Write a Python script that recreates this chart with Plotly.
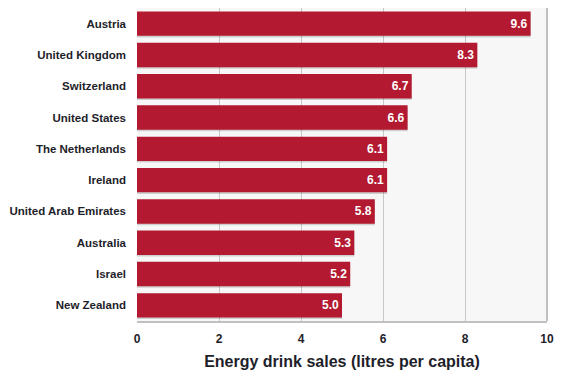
import plotly.graph_objects as go

countries = ["Austria", "United Kingdom", "Switzerland", "United States", "The Netherlands",
             "Ireland", "United Arab Emirates", "Australia", "Israel", "New Zealand"]
sales = [9.6, 8.3, 6.7, 6.6, 6.1, 6.1, 5.8, 5.3, 5.2, 5.0]
x_ticks = [0, 2, 4, 6, 8, 10]

FONT = "Liberation Sans, Arial, sans-serif"
BAR = "#b31a31"
TXT = "#1e1e2a"

fig = go.Figure()
# shadow layer
fig.add_trace(go.Bar(
    y=countries, x=sales, orientation="h",
    marker=dict(color="rgba(0,0,0,0.16)", line=dict(width=0)),
    width=0.78, offset=-0.34, hoverinfo="skip", showlegend=False,
))
fig.add_trace(go.Bar(
    y=countries, x=sales, orientation="h",
    marker=dict(color=BAR, line=dict(width=0)),
    width=0.78, offset=-0.39,
    text=[f"{v:.1f}" for v in sales], textposition="inside",
    insidetextanchor="end",
    textfont=dict(family=FONT, size=12, color="white", weight="bold"),
    showlegend=False,
))

fig.update_layout(
    width=573, height=375,
    margin=dict(l=129, r=34, t=0, b=62),
    paper_bgcolor="white", plot_bgcolor="#f7f7f7",
    barmode="overlay",
    font=dict(family=FONT, color=TXT),
    xaxis=dict(
        range=[0, 10], tickvals=x_ticks, ticktext=[str(t) for t in x_ticks],
        showgrid=True, gridcolor="#c8c8c8", gridwidth=1, zeroline=False,
        showline=True, linecolor="#c0c0c0", linewidth=2, mirror=False,
        ticks="", ticklabelstandoff=6, automargin=False,
        tickfont=dict(family=FONT, size=12, color=TXT, weight="bold"),
        title=dict(text="Energy drink sales (litres per capita)",
                   font=dict(family=FONT, size=16, color=TXT, weight="bold"),
                   standoff=10),
    ),
    yaxis=dict(
        autorange="reversed", showgrid=False, zeroline=False, automargin=False,
        showline=False, ticks="", ticklabelstandoff=10,
        tickfont=dict(family=FONT, size=11.5, color=TXT, weight="bold"),
    ),
    shapes=[dict(type="line", xref="paper", yref="paper", x0=1, x1=1, y0=0, y1=1,
                 line=dict(color="#c0c0c0", width=2))],
)

fig.write_html("out.html")
